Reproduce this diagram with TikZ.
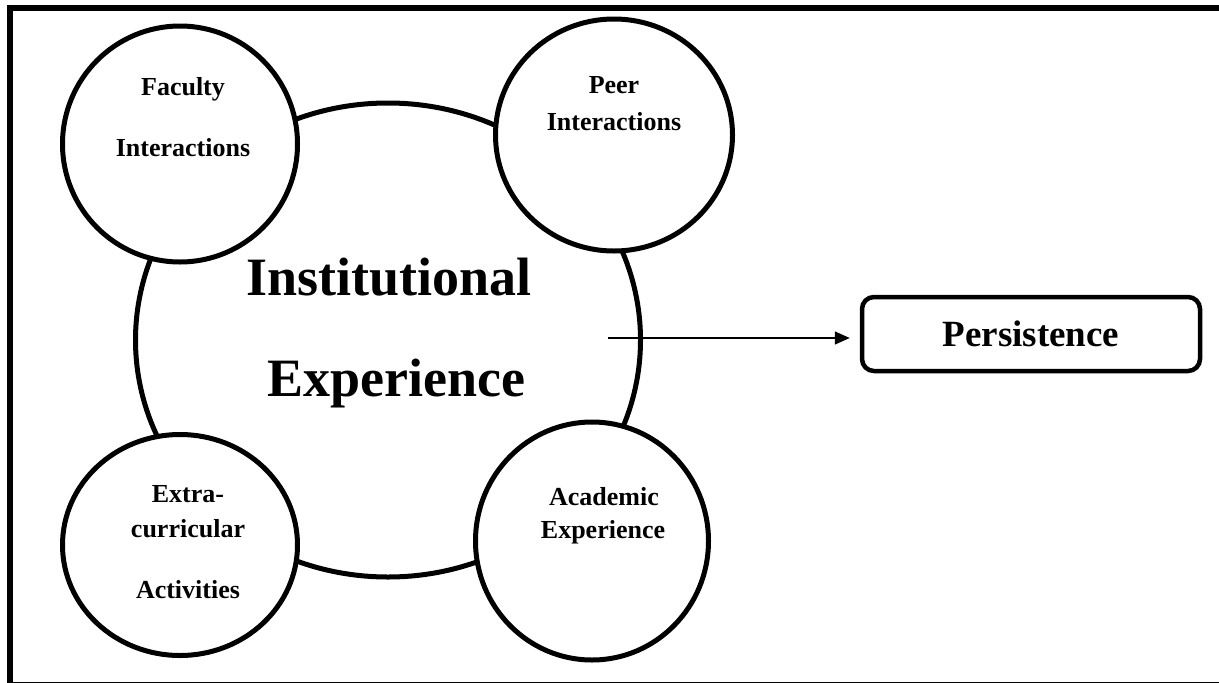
\documentclass[tikz,border=0pt]{standalone}
\usepackage{fontspec}
\setmainfont{Liberation Serif}
\usetikzlibrary{shapes.geometric, arrows.meta}

\begin{document}
\begin{tikzpicture}[x=1pt,y=-1pt,font=\bfseries,
  factor/.style={draw, ellipse, fill=white, line width=5pt, inner sep=0pt},
  small text/.style={anchor=base, inner sep=0pt, font=\fontsize{26}{30}\selectfont\bfseries},
  big text/.style={anchor=base, inner sep=0pt, font=\fontsize{54}{60}\selectfont\bfseries}]
\useasboundingbox (0,0) rectangle (1219,683);

% frame
\draw[line width=6pt] (7,8) -- (1219,8);
\draw[line width=6pt] (10,5) -- (10,683);
\draw[line width=1pt] (7,682) -- (1219,682);

% institutional experience
\node[draw, ellipse, line width=5pt, minimum width=505pt, minimum height=474pt] (inst) at (388,340) {};

\node[factor, minimum width=235pt, minimum height=236pt] (faculty) at (180,144) {};
\node[factor, minimum width=237pt, minimum height=232pt] (peer) at (614,135) {};
\node[factor, minimum width=235pt, minimum height=221pt] (extra) at (180,545) {};
\node[factor, minimum width=233pt, minimum height=238pt] (academic) at (592,541) {};

\node[big text] (inst1) at (389,295) {Institutional};
\node[big text] (inst2) at (396,396) {Experience};

\node[small text] (fac1) at (183,95) {Faculty};
\node[small text] (fac2) at (183,156) {Interactions};
\node[small text] (peer1) at (614,93) {Peer};
\node[small text] (peer2) at (614,130) {Interactions};
\node[small text] (extra1) at (188,502) {Extra-};
\node[small text] (extra2) at (188,537) {curricular};
\node[small text] (extra3) at (188,598) {Activities};
\node[small text] (acad1) at (604,505) {Academic};
\node[small text] (acad2) at (603,538) {Experience};

% outcome
\node[draw, rounded corners=12pt, line width=4.5pt, minimum width=338pt, minimum height=74pt,
  font=\fontsize{37}{40}\selectfont\bfseries] (persist) at (1031,334) {Persistence};

\coordinate (start) at (608,338);
\draw[line width=1.5pt, -{Triangle[length=15pt,width=13pt]}, shorten >=10pt] (start) -- (start -| persist.west);

\end{tikzpicture}
\end{document}
